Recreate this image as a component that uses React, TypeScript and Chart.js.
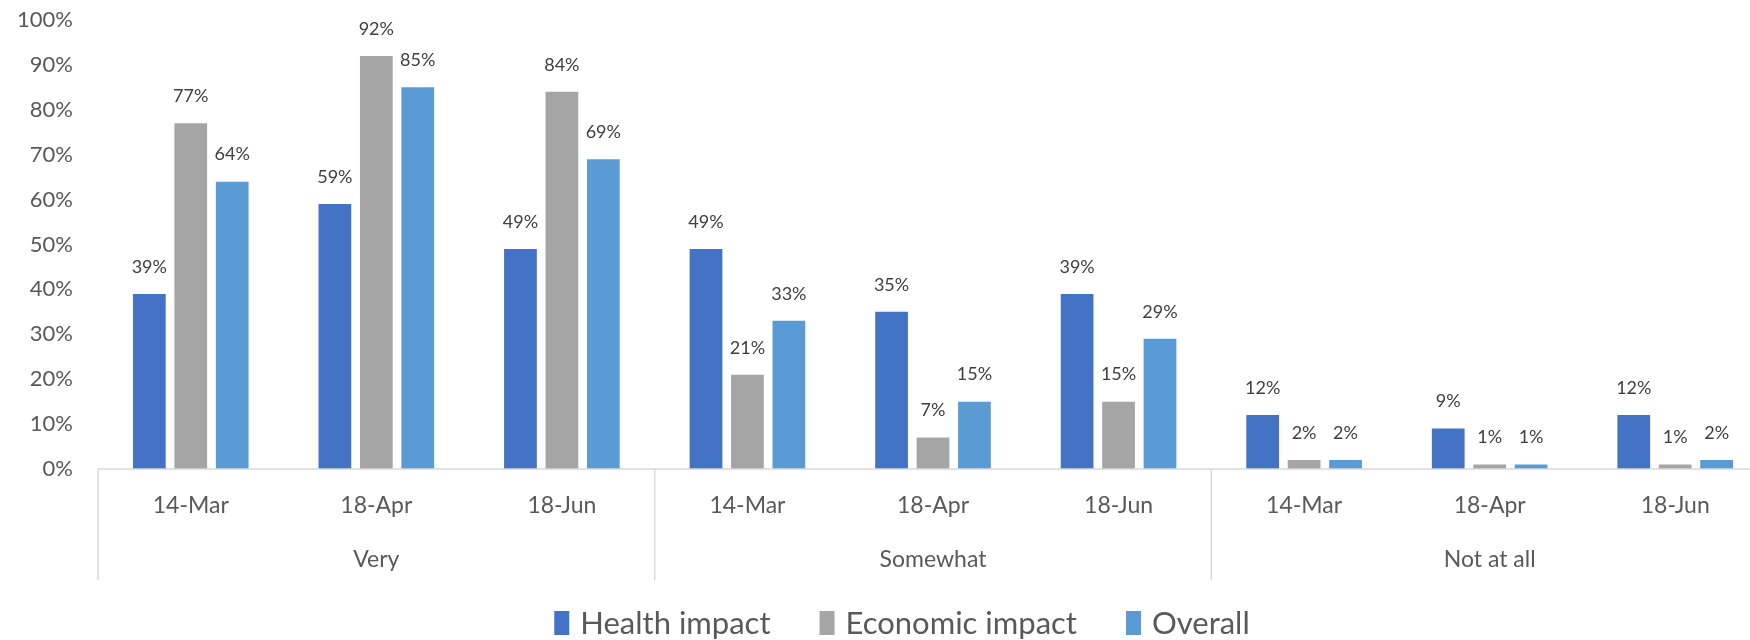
import React, { useEffect, useRef } from 'react';
import { Chart, registerables } from 'chart.js';

Chart.register(...registerables);

const dateLabels = ['14-Mar', '18-Apr', '18-Jun'];
const groupLabels = ['Very', 'Somewhat', 'Not at all'];
const seriesNames = ['Health impact', 'Economic impact', 'Overall'];
const seriesColors = ['#4472C4', '#A5A5A5', '#5B9BD5'];
const healthImpact = [39, 59, 49, 49, 35, 39, 12, 9, 12];
const economicImpact = [77, 92, 84, 21, 7, 15, 2, 1, 1];
const overall = [64, 85, 69, 33, 15, 29, 2, 1, 2];
const yMax = 100;
const yStep = 10;

const FONT = "Lato, 'Liberation Sans', sans-serif";
const TEXT = '#595959';
const LINE = '#D9D9D9';
const LEGEND_CENTER_X = 902;
const LEGEND_Y = 623;
const GROUP_LABEL_Y = 560;
const SEPARATOR_BOTTOM = 580;

const categories = groupLabels.flatMap(() => dateLabels);

const overlayPlugin = {
  id: 'overlay',
  afterDatasetsDraw(chart: any) {
    const { ctx } = chart;
    ctx.save();
    ctx.font = `18px ${FONT}`;
    ctx.fillStyle = '#404040';
    ctx.textAlign = 'center';
    ctx.textBaseline = 'middle';
    chart.data.datasets.forEach((ds: any, i: number) => {
      const meta = chart.getDatasetMeta(i);
      meta.data.forEach((bar: any, j: number) => {
        ctx.fillText(`${ds.data[j]}%`, bar.x, bar.y - 27);
      });
    });
    ctx.restore();
  },
  afterDraw(chart: any) {
    const { ctx, chartArea } = chart;
    const x = chart.scales.x;
    const n = dateLabels.length;
    ctx.save();
    ctx.strokeStyle = LINE;
    ctx.lineWidth = 1.5;
    ctx.beginPath();
    ctx.moveTo(chartArea.left, chartArea.bottom);
    ctx.lineTo(chartArea.right, chartArea.bottom);
    ctx.stroke();
    const half = (x.getPixelForValue(1) - x.getPixelForValue(0)) / 2;
    for (let g = 0; g < groupLabels.length; g++) {
      const sx = x.getPixelForValue(g * n) - half;
      ctx.beginPath();
      ctx.moveTo(sx, chartArea.bottom);
      ctx.lineTo(sx, SEPARATOR_BOTTOM);
      ctx.stroke();
    }
    ctx.font = `23px ${FONT}`;
    ctx.fillStyle = TEXT;
    ctx.textAlign = 'center';
    ctx.textBaseline = 'middle';
    groupLabels.forEach((g, i) => {
      const cx = (x.getPixelForValue(i * n) + x.getPixelForValue(i * n + n - 1)) / 2;
      ctx.fillText(g, cx, GROUP_LABEL_Y);
    });
    // legend
    ctx.font = `31px ${FONT}`;
    const boxW = 15;
    const boxH = 24;
    const boxGap = 11;
    const itemGap = 49;
    const widths = chart.data.datasets.map((d: any) => ctx.measureText(d.label).width);
    const total =
      widths.reduce((a: number, b: number) => a + b, 0) +
      chart.data.datasets.length * (boxW + boxGap) +
      (chart.data.datasets.length - 1) * itemGap;
    let lx = LEGEND_CENTER_X - total / 2;
    ctx.textAlign = 'left';
    chart.data.datasets.forEach((d: any, i: number) => {
      ctx.fillStyle = d.backgroundColor;
      ctx.fillRect(lx, LEGEND_Y - boxH / 2, boxW, boxH);
      lx += boxW + boxGap;
      ctx.fillStyle = TEXT;
      ctx.fillText(d.label, lx, LEGEND_Y + 1);
      lx += widths[i] + itemGap;
    });
    ctx.restore();
  },
};

export default function App() {
  const ref = useRef<HTMLCanvasElement | null>(null);
  useEffect(() => {
    document.body.style.margin = '0';
    if (!ref.current) return;
    const values = [healthImpact, economicImpact, overall];
    const chart = new Chart(ref.current, {
      type: 'bar',
      data: {
        labels: categories,
        datasets: seriesNames.map((name, i) => ({
          label: name,
          data: values[i],
          backgroundColor: seriesColors[i],
          categoryPercentage: 0.67,
          barPercentage: 0.79,
        })),
      },
      options: {
        responsive: false,
        animation: false,
        devicePixelRatio: 1,
        layout: { padding: { top: 20, left: 0, right: 0, bottom: 0 } },
        plugins: { legend: { display: false }, tooltip: { enabled: false } },
        scales: {
          x: {
            grid: { display: false, drawTicks: false },
            border: { display: false },
            ticks: {
              font: { family: FONT, size: 23 },
              color: TEXT,
              padding: 23,
              maxRotation: 0,
              autoSkip: false,
            },
            afterFit: (s: any) => {
              s.height = 171;
            },
          },
          y: {
            min: 0,
            max: yMax,
            grid: { display: false, drawTicks: false },
            border: { display: false },
            ticks: {
              stepSize: yStep,
              font: { family: FONT, size: 22 },
              color: TEXT,
              padding: 25,
              callback: (v: any) => `${v}%`,
            },
            afterFit: (s: any) => {
              s.width = 98;
              s.paddingTop = 0;
              s.paddingBottom = 0;
            },
          },
        },
      },
      plugins: [overlayPlugin],
    });
    return () => chart.destroy();
  }, []);
  return (
    <div style={{ width: 1750, height: 640, overflow: 'hidden', background: '#fff' }}>
      <canvas ref={ref} width={1768} height={640} style={{ display: 'block' }} />
    </div>
  );
}
